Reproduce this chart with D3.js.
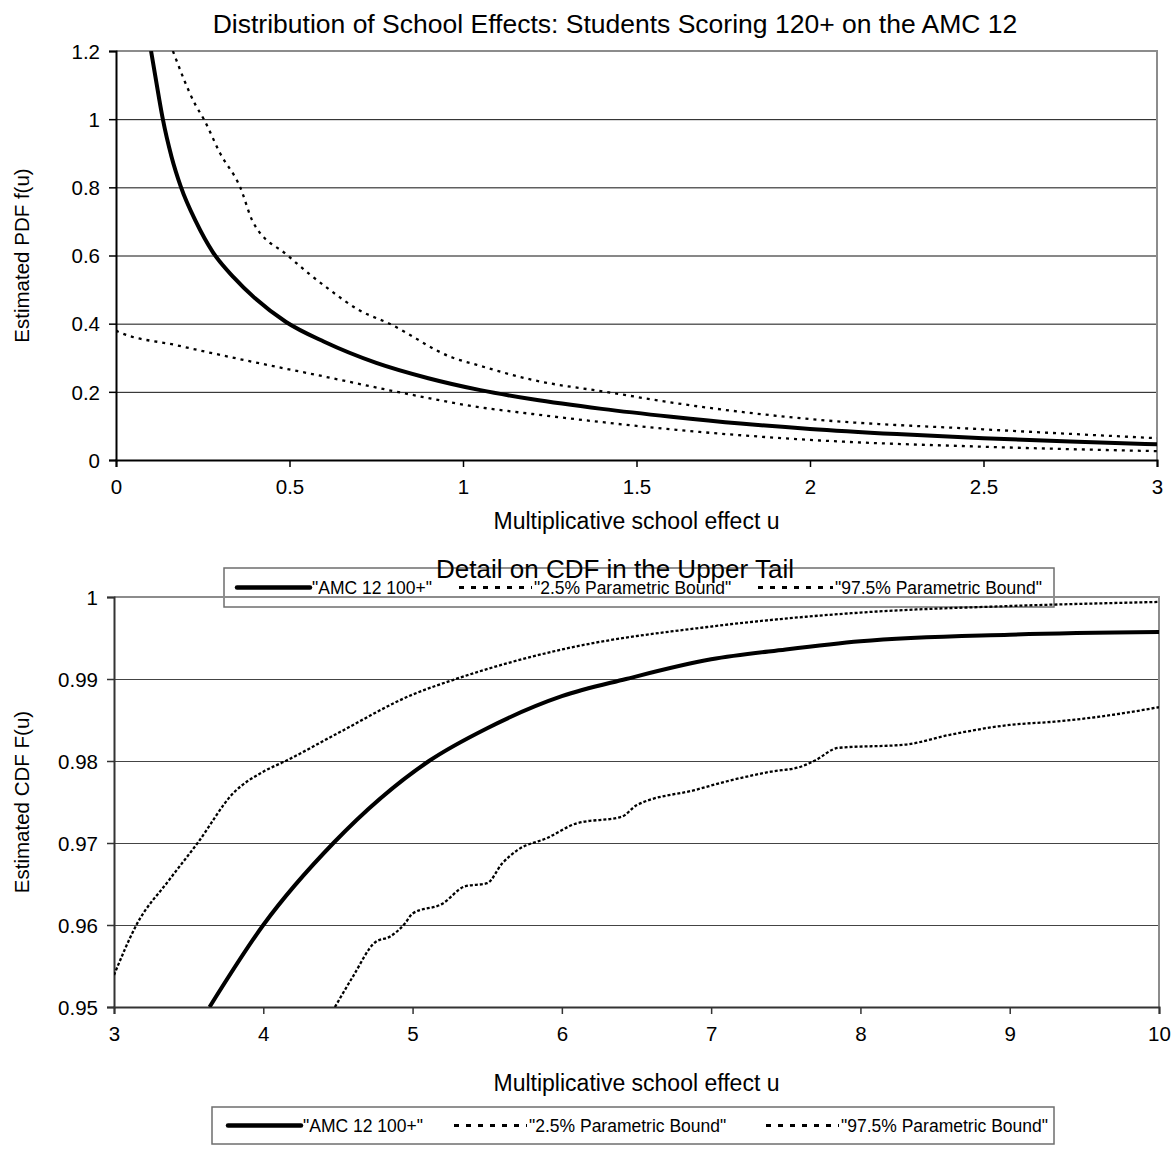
<!DOCTYPE html>
<html>
<head>
<meta charset="utf-8">
<script src="https://cdn.jsdelivr.net/npm/d3@7"></script>
<style>
  body { margin: 0; background: #fff; }
  svg { display: block; font-family: "Liberation Sans", Arial, sans-serif; }
</style>
</head>
<body>
<div id="chart"></div>
<script>
// series names as in the legend
const seriesNames = ['"AMC 12 100+"', '"2.5% Parametric Bound"', '"97.5% Parametric Bound"'];

// top panel: estimated PDF, [u, f(u)]
const pdfEstimate = [[0.101,1.2],[0.125,1.056],[0.135,1.0],[0.16,0.89],[0.1875,0.8],[0.23,0.7],[0.279,0.61],
    [0.34,0.535],[0.4,0.475],[0.49,0.405],[0.6,0.347],[0.75,0.285],[0.9,0.24],[1.05,0.205],[1.2,0.178],[1.4,0.15],
    [1.6,0.127],[1.8,0.107],[2.0,0.091],[2.25,0.076],[2.5,0.064],[2.75,0.054],[3.0,0.046]];
const pdfLow = [[0,0.38],[0.005,0.377],[0.173,0.337],[0.46,0.274],[0.6,0.245],[0.81,0.2],[1.04,0.156],
    [1.2,0.135],[1.41,0.11],[1.5,0.1],[2.0,0.059],[2.5,0.039],[3.0,0.026]];
const pdfHigh = [[0.164,1.2],[0.229,1.042],[0.253,1.0],[0.30,0.9],[0.358,0.8],[0.394,0.7],[0.495,0.6],
    [0.615,0.5],[0.70,0.44],[0.788,0.4],[0.971,0.3],[1.04,0.279],[1.2,0.235],[1.41,0.2],[1.68,0.157],
    [2.0,0.12],[2.5,0.09],[3.0,0.064]];

// bottom panel: CDF in the upper tail, [u, F(u)]
const cdfEstimate = [[3.64,0.95],[4.0,0.96],[4.47,0.97],[5.11,0.98],[5.5,0.984],[6.0,0.9879],[6.43,0.99],
    [7.0,0.9924],[7.5,0.9936],[8.0,0.9946],[9.0,0.9954],[10,0.99572]];
const cdfLow = [[4.48,0.95],[4.6,0.9537],[4.75,0.9579],[4.85,0.9586],[4.95,0.9602],[5.0,0.9614],[5.2,0.9626],
    [5.35,0.9647],[5.5,0.9651],[5.6,0.9675],[5.7,0.9691],[5.9,0.9706],[6.1,0.9724],[6.4,0.9732],[6.5,0.9746],
    [6.9,0.9765],[7.1,0.9775],[7.4,0.9787],[7.6,0.9793],[7.7,0.9801],[7.85,0.9816],[8.3,0.982],[8.6,0.9832],
    [9.0,0.9844],[9.3,0.9848],[9.6,0.9854],[10,0.98656]];
const cdfHigh = [[3.0,0.9539],[3.15,0.96],[3.37,0.9655],[3.56,0.97],[3.8,0.9761],[4.0,0.9787],[4.15,0.98],
    [4.5,0.9834],[5.0,0.9881],[5.29,0.99],[6.0,0.9936],[7.0,0.9964],[8.0,0.9981],[9.0,0.9989],[10,0.9994]];

// tick values
const pdfTicksX = [0, 0.5, 1, 1.5, 2, 2.5, 3];
const pdfTicksY = [0, 0.2, 0.4, 0.6, 0.8, 1, 1.2];
const cdfTicksX = [3, 4, 5, 6, 7, 8, 9, 10];
const cdfTicksY = [0.95, 0.96, 0.97, 0.98, 0.99, 1];

const width = 1175, height = 1152;
const fmt = d3.format("~g");

let svg = d3.select("#chart").append("svg")
    .attr("width", width)
    .attr("height", height);

function drawPanel(opt) {
    let x = d3.scaleLinear().domain(opt.xDomain).range([opt.left, opt.right]);
    let y = d3.scaleLinear().domain(opt.yDomain).range([opt.bottom, opt.top]);
    let g = svg.append("g");

    // gridlines
    g.append("g")
        .attr("transform", "translate(" + opt.left + ",0)")
        .call(d3.axisLeft(y).tickValues(opt.yTicks.slice(1)).tickSize(-(opt.right - opt.left)).tickFormat(""))
        .call(s => s.select(".domain").remove())
        .selectAll("line").attr("stroke", opt.gridColor).attr("stroke-width", 1);

    // gray frame on top and right
    g.append("path")
        .attr("d", "M" + opt.left + "," + opt.top + "H" + opt.right + "V" + opt.bottom)
        .attr("fill", "none").attr("stroke", "#8c8c8c").attr("stroke-width", 2);

    // axes
    let ax = g.append("g")
        .attr("transform", "translate(0," + opt.bottom + ")")
        .call(d3.axisBottom(x).tickValues(opt.xTicks).tickSize(7).tickPadding(12).tickFormat(fmt));
    let ay = g.append("g")
        .attr("transform", "translate(" + opt.left + ",0)")
        .call(d3.axisLeft(y).tickValues(opt.yTicks).tickSize(7).tickPadding(9).tickFormat(fmt));
    [ax, ay].forEach(a => {
        a.select(".domain").attr("stroke", opt.axisColor).attr("stroke-width", 2);
        a.selectAll(".tick line").attr("stroke", opt.axisColor).attr("stroke-width", 1.5);
        a.selectAll("text").attr("font-size", 20.5).attr("fill", "#000")
            .attr("font-family", "Liberation Sans, Arial, sans-serif");
    });
    ay.selectAll("text").attr("dy", "0.35em");

    // lines
    let clipId = "clip" + opt.id;
    svg.append("clipPath").attr("id", clipId)
        .append("rect")
        .attr("x", opt.left).attr("y", opt.top)
        .attr("width", opt.right - opt.left).attr("height", opt.bottom - opt.top);

    let line = d3.line()
        .x(d => x(d[0]))
        .y(d => y(d[1]))
        .curve(d3.curveMonotoneX);

    let lines = g.append("g").attr("clip-path", "url(#" + clipId + ")");
    opt.series.forEach((s, i) => {
        let p = lines.append("path")
            .datum(s)
            .attr("fill", "none")
            .attr("stroke", "#000")
            .attr("d", line);
        if (i == 0) {
            p.attr("stroke-width", 4);
        } else {
            p.attr("stroke-width", 2.3).attr("stroke-dasharray", opt.dash);
        }
    });

    // axis titles
    svg.append("text")
        .attr("x", (opt.left + opt.right) / 2)
        .attr("y", opt.xTitleY)
        .attr("text-anchor", "middle")
        .attr("font-size", 23)
        .text("Multiplicative school effect u");
    svg.append("text")
        .attr("transform", "translate(29," + ((opt.top + opt.bottom) / 2) + ") rotate(-90)")
        .attr("text-anchor", "middle")
        .attr("font-size", 20.5)
        .text(opt.yTitle);
}

function drawLegend(box, items) {
    let g = svg.append("g");
    g.append("rect")
        .attr("x", box.x).attr("y", box.y)
        .attr("width", box.w).attr("height", box.h)
        .attr("fill", "none").attr("stroke", "#6e6e6e").attr("stroke-width", 1.5);
    let cy = box.y + box.h / 2;
    items.forEach((it, i) => {
        let l = g.append("line")
            .attr("x1", it.x1).attr("x2", it.x2)
            .attr("y1", cy).attr("y2", cy)
            .attr("stroke", "#000");
        if (i == 0) {
            l.attr("stroke-width", 4.5).attr("stroke-linecap", "round");
        } else {
            l.attr("stroke-width", 3).attr("stroke-dasharray", "5,7");
        }
        g.append("text")
            .attr("x", it.x2 + 2)
            .attr("y", cy + 6)
            .attr("font-size", 17.5)
            .text(seriesNames[i]);
    });
}

// top panel
drawPanel({
    id: 1, left: 116, right: 1157, top: 51, bottom: 460,
    xDomain: [0, 3], yDomain: [0, 1.2],
    xTicks: pdfTicksX, yTicks: pdfTicksY,
    series: [pdfEstimate, pdfLow, pdfHigh],
    dash: "3,5", gridColor: "#111", axisColor: "#000",
    xTitleY: 529, yTitle: "Estimated PDF f(u)"
});
svg.append("text")
    .attr("x", 615).attr("y", 33)
    .attr("text-anchor", "middle")
    .attr("font-size", 26.5)
    .text("Distribution of School Effects: Students Scoring 120+ on the AMC 12");

// legend of the top panel, overlapping the second title
drawLegend({x: 224, y: 568, w: 830, h: 39}, [
    {x1: 237, x2: 310}, {x1: 459, x2: 532}, {x1: 758, x2: 833}
]);

// bottom panel
drawPanel({
    id: 2, left: 114, right: 1159, top: 597, bottom: 1007,
    xDomain: [3, 10], yDomain: [0.95, 1],
    xTicks: cdfTicksX, yTicks: cdfTicksY,
    series: [cdfEstimate, cdfLow, cdfHigh],
    dash: "3,2", gridColor: "#444", axisColor: "#333",
    xTitleY: 1091, yTitle: "Estimated CDF F(u)"
});
svg.append("text")
    .attr("x", 615).attr("y", 578)
    .attr("text-anchor", "middle")
    .attr("font-size", 26)
    .text("Detail on CDF in the Upper Tail");

drawLegend({x: 212, y: 1107, w: 842, h: 37}, [
    {x1: 228, x2: 301}, {x1: 454, x2: 527}, {x1: 766, x2: 839}
]);
</script>
</body>
</html>
